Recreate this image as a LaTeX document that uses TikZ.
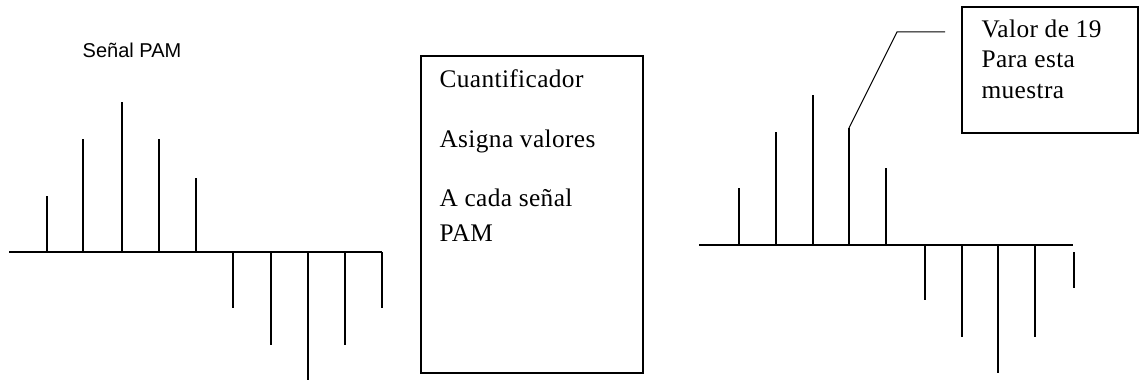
\documentclass[tikz,border=0pt]{standalone}
\usepackage{fontspec}
\setmainfont{Liberation Serif}
\newfontfamily\rotulo{Liberation Sans}
\newcommand\Muestra[3]{% x, base, tip
    \draw (#1,#2) -- (#1,#3);
}
\newcommand\TextoCaja{\fontsize{19}{22}\selectfont\addfontfeature{LetterSpace=1.5}}
\tikzset{
    caja/.style={draw, line width=1pt, inner sep=0pt},
    linea/.style={anchor=base west, inner sep=0pt, font=\TextoCaja},
}

\begin{document}
\begin{tikzpicture}[x=0.75pt, y=-0.75pt, line width=0.9pt]
    \useasboundingbox (0,0) rectangle (1139,381);
    % senal PAM de entrada
    \node[font=\rotulo\fontsize{15}{18}\selectfont] (titulo) at (132,50) {Señal PAM};
    \draw (9,252) -- (382,252);
    \foreach \x/\y in {47/196, 83/139, 122/102, 159/139, 196/178,
                       233/308, 271/345, 308/380, 345/345, 382/308}
        {\Muestra{\x}{252}{\y}}
    % cuantificador
    \node[caja, minimum width=166.5pt, minimum height=237.75pt] (cuant) at (532,214.5) {};
    \node[linea] (c1) at (439,88) {Cuantificador};
    \node[linea] (c2) at (439,148) {Asigna valores};
    \node[linea] (c3) at (439,207) {A cada señal};
    \node[linea] (c4) at (439,242) {PAM};
    % senal cuantificada
    \draw (699,245) -- (1073,245);
    \foreach \x/\y in {739/188, 776/132, 813/95, 886/168,
                       925/300, 962/337, 998/373, 1035/337}
        {\Muestra{\x}{245}{\y}}
    \Muestra{849}{245}{128}
    \coordinate (m19) at (849,128);
    \Muestra{1074}{252}{288}
    % nota
    \node[caja, minimum width=132pt, minimum height=94.5pt] (nota) at (1050,70) {};
    \node[linea] (n1) at (981,38) {Valor de 19};
    \node[linea] (n2) at (981,68) {Para esta};
    \node[linea] (n3) at (981,99) {muestra};
    \coordinate (codo) at (897,32);
    \coordinate (fin) at (945,32);
    \draw[line width=0.75pt] (m19) -- (codo) -- (fin);
\end{tikzpicture}
\end{document}
